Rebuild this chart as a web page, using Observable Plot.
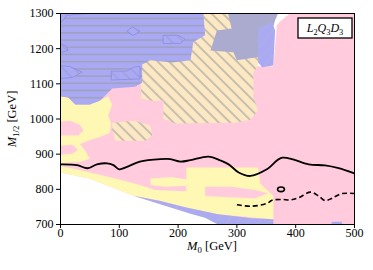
<!DOCTYPE html>
<html><head><meta charset="utf-8">
<script src="https://cdn.jsdelivr.net/npm/d3@7"></script>
<script src="https://cdn.jsdelivr.net/npm/@observablehq/plot@0.6"></script>
<style>body{margin:0;background:#fff} svg text, svg tspan{font-family:'Liberation Serif',serif !important}</style>
</head><body><div id="chart"></div>
<script>
const xTicks = [0, 100, 200, 300, 400, 500];
const yTicks = [700, 800, 900, 1000, 1100, 1200, 1300];
const xLabelParts = [["M", "i"], ["0", "sub"], [" [GeV]", ""]];
const yLabelParts = [["M", "i"], ["1/2", "sub"], [" [GeV]", ""]];
const legendParts = [["L", "i"], ["2", "sub"], ["Q", "i"], ["3", "sub"], ["D", "i"], ["3", "sub"]];

// regions [M0, M1/2]
const pinkBase = [[390,1300],[500,1300],[500,700],[268,700],[246,719],[220,731],[124,782],[50,830],[0,848],[0,1150],[362,1150],[368,1267],[376,1281]];
const yellowA = [[0,1064],[13,1061],[25,1041],[50,1041],[67,1052],[81,1064],[88,1041],[81,1010],[86,989],[84,961],[67,949],[47,938],[33,929],[42,910],[50,887],[33,878],[0,875]];
const yellowC = [[0,866],[25,858],[50,848],[100,828],[135,812],[161,798],[200,795],[246,795],[246,770],[212,749],[170,767],[124,782],[50,830],[0,848]];
const yellowD = [[214,862],[336,862],[340,816],[362,782],[362,715],[268,729],[212,749],[214,790]];
const yellowE = [[153,830],[187,835],[217,827],[214,810],[178,807],[153,812]];
const pinkB1 = [[0,993],[16,995],[33,984],[39,967],[30,953],[0,953]];
const pinkB2 = [[0,924],[20,927],[30,912],[20,901],[0,898]];
const pinkT = [[246,807],[289,807],[331,798],[353,789],[331,775],[280,778],[246,781]];
const tanMain = [[221,1300],[297,1300],[340,1252],[336,1152],[328,1132],[328,1061],[336,1024],[323,998],[297,989],[195,987],[175,1001],[175,1052],[153,1052],[137,1058],[137,1167]];
const tanPatch = [[88,989],[127,995],[153,981],[156,953],[144,938],[93,938],[88,967]];
const blueMain = [[0,1300],[243,1300],[246,1238],[226,1219],[221,1167],[190,1161],[153,1167],[139,1155],[139,1104],[127,1092],[88,1087],[81,1075],[67,1052],[50,1041],[25,1041],[13,1061],[0,1064]];
const blueS1 = [[0,1272],[11,1295],[47,1300],[0,1300]];
const blueS2 = [[113,1250],[122,1262],[135,1250],[124,1238]];
const blueS3 = [[0,1215],[10,1207],[13,1195],[0,1189]];
const blueS4 = [[0,1152],[16,1149],[37,1133],[20,1118],[0,1115]];
const blueS5 = [[87,1136],[113,1136],[124,1147],[135,1150],[135,1114],[87,1111]];
const blueS6 = [[175,1238],[200,1238],[212,1227],[204,1215],[175,1215]];
const slate = [[285,1300],[370,1300],[365,1281],[360,1252],[337,1252],[337,1176],[300,1167],[294,1190],[255,1195],[266,1252],[291,1257]];
const lightBlue = [[336,1258],[360,1275],[365,1252],[362,1152],[343,1147],[336,1161]];
const blueStrip = [[124,782],[170,767],[212,749],[268,729],[326,718],[362,715],[362,700],[268,700],[246,719],[220,731]];
const blueBit = [[462,708],[478,708],[480,700],[460,700]];

const solidM0 = [0,28,46,62,79,90,100,113,135,170,187,204,221,252,272,286,303,323,351,377,422,450,473,500];
const solidM  = [871,869,860,871,874,869,857,864,879,886,886,879,883,893,882,871,848,838,857,890,871,868,860,845];
const dashM0 = [300,325,351,360,377,391,405,425,439,450,462,479,500];
const dashM  = [756,752,760,769,771,770,776,792,781,768,775,788,788];
const islandM0 = [375];
const islandM = [800];

const C = {pink:"#ffcbdd", yellow:"#fff8b4", tan:"#fde8c4", blue:"#aaaaf4", slate:"#ababcf"};

const toRows = (list) => list.flatMap(([id, arr]) => arr.map(([x, y]) => ({x, y, id})));
const region = (list, fill, extra = {}) =>
  Plot.line(toRows(list), {x: "x", y: "y", z: "id", fill, stroke: "none", curve: "linear-closed", clip: true, ...extra});

const solid = solidM0.map((x, i) => ({x, y: solidM[i]}));
const dashed = dashM0.map((x, i) => ({x, y: dashM[i]}));
const island = islandM0.map((x, i) => ({x, y: islandM[i]}));

// flat ellipse symbol for the small closed contour
const ellipseSymbol = {
  draw(ctx, size) {
    const r = Math.sqrt(size / Math.PI), rx = r * 1.5, ry = r, k = 0.5523;
    ctx.moveTo(rx, 0);
    ctx.bezierCurveTo(rx, ry * k, rx * k, ry, 0, ry);
    ctx.bezierCurveTo(-rx * k, ry, -rx, ry * k, -rx, 0);
    ctx.bezierCurveTo(-rx, -ry * k, -rx * k, -ry, 0, -ry);
    ctx.bezierCurveTo(rx * k, -ry, rx, -ry * k, rx, 0);
    ctx.closePath();
  }
};

const W = 373, H = 270;
const svg = Plot.plot({
  width: W, height: H,
  marginLeft: 60, marginRight: 19, marginTop: 13, marginBottom: 46,
  style: {fontFamily: "'Liberation Serif', serif", fontSize: "12px", background: "white", color: "black"},
  x: {domain: [0, 500], ticks: xTicks, tickSize: 4, tickPadding: 0, tickFormat: d => String(d), label: null},
  y: {domain: [700, 1300], ticks: yTicks, tickSize: 4, tickPadding: 3, tickFormat: d => String(d), label: null},
  marks: [
    region([["p", pinkBase]], C.pink),
    region([["a", yellowA], ["c", yellowC], ["d", yellowD], ["e", yellowE]], C.yellow),
    region([["b1", pinkB1], ["b2", pinkB2], ["t", pinkT]], C.pink),
    region([["m", tanMain], ["p", tanPatch]], "url(#hTan)"),
    region([["m", blueMain]], "url(#hBlue)"),
    region([["1", blueS1], ["2", blueS2], ["3", blueS3], ["4", blueS4], ["5", blueS5], ["6", blueS6]], "url(#hBlueD)", {stroke: "#8c8ce0", strokeWidth: 0.8}),
    region([["s", slate]], C.slate),
    region([["l", lightBlue]], "url(#hLight)"),
    region([["s", blueStrip], ["b", blueBit]], "url(#hStrip)"),
    Plot.line(solid, {x: "x", y: "y", stroke: "black", strokeWidth: 1.8, curve: "catmull-rom", clip: true}),
    Plot.line(dashed, {x: "x", y: "y", stroke: "black", strokeWidth: 1.6, strokeDasharray: "5,3", strokeLinecap: "butt", curve: "catmull-rom", clip: true}),
    Plot.dot(island, {x: "x", y: "y", r: 2.3, symbol: ellipseSymbol, stroke: "black", strokeWidth: 1.6, fill: C.pink}),
    Plot.frame({stroke: "black", strokeWidth: 1})
  ]
});

const s = d3.select(svg);
const defs = s.insert("defs", ":first-child");
function hatch(id, bg, angle, spacing, color, width) {
  const p = defs.append("pattern").attr("id", id).attr("patternUnits", "userSpaceOnUse")
    .attr("width", spacing).attr("height", spacing).attr("patternTransform", `rotate(${angle})`);
  p.append("rect").attr("width", spacing).attr("height", spacing).attr("fill", bg);
  p.append("line").attr("x1", -1).attr("y1", spacing / 2).attr("x2", spacing + 1).attr("y2", spacing / 2)
    .attr("stroke", color).attr("stroke-width", width);
}
hatch("hTan", C.tan, 45, 8, "#9d9d9d", 1.1);
hatch("hBlue", C.blue, 0, 7.2, "#9c9ca6", 1.1);
hatch("hBlueD", C.blue, 45, 8, "#9898c8", 0.9);
hatch("hLight", C.blue, -50, 8, "#b0b0d8", 0.9);
hatch("hStrip", C.blue, -50, 8, "#b4b4cc", 0.9);

function richText(g, parts, size) {
  const t = g.append("text").attr("font-size", size).attr("fill", "black");
  let shifted = false;
  for (const [str, kind] of parts) {
    const ts = t.append("tspan").text(str);
    if (kind === "i") ts.attr("font-style", "italic");
    if (kind === "sub") { ts.attr("font-size", size * 0.7).attr("dy", shifted ? 0 : size * 0.25); shifted = true; }
    else { if (shifted) ts.attr("dy", -size * 0.25); shifted = false; }
  }
  return t;
}
// x label
richText(s.append("g").attr("transform", "translate(212,250)"), xLabelParts, 12.5).attr("text-anchor", "middle");
// y label
richText(s.append("g").attr("transform", "translate(16,119) rotate(-90)"), yLabelParts, 12.5).attr("text-anchor", "middle");
// legend box
const lg = s.append("g");
lg.append("rect").attr("x", 298).attr("y", 18).attr("width", 54).attr("height", 20)
  .attr("fill", "white").attr("stroke", "black").attr("stroke-width", 1.3);
richText(lg.append("g").attr("transform", "translate(325,32)"), legendParts, 12).attr("text-anchor", "middle");

document.getElementById("chart").appendChild(svg);
</script>
</body></html>
